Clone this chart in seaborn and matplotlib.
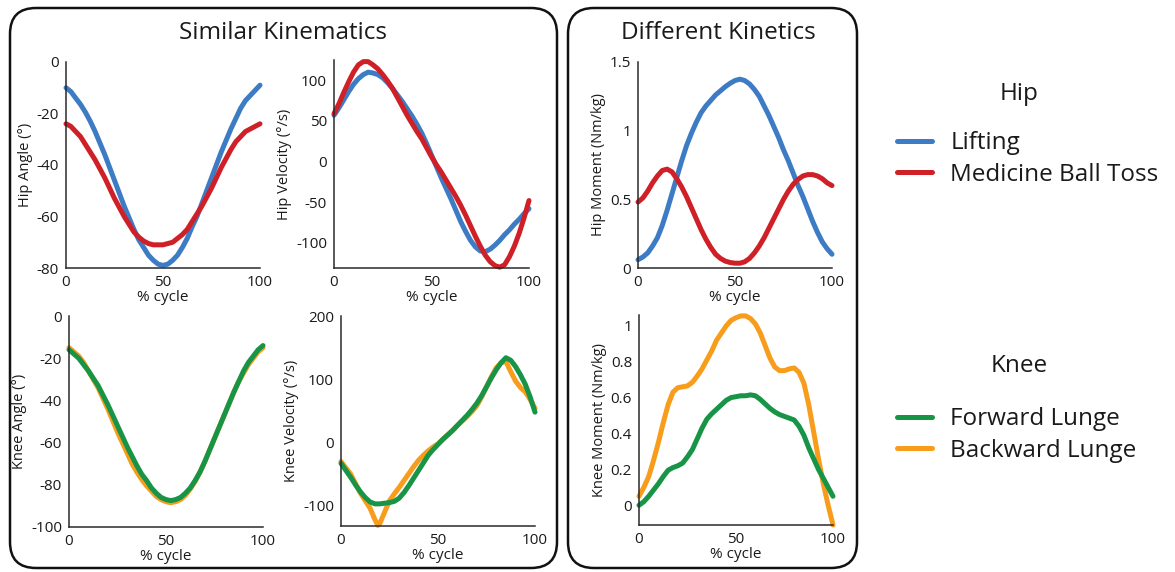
import numpy as np
import pandas as pd
import matplotlib
matplotlib.use("Agg")
import matplotlib.pyplot as plt
import seaborn as sns
from matplotlib.patches import FancyBboxPatch
from matplotlib.ticker import FuncFormatter

# ---------------- data ----------------
cycle = [0, 2.5, 5, 7.5, 10, 12.5, 15, 17.5, 20, 22.5, 25, 27.5, 30, 32.5, 35, 37.5, 40, 42.5, 45, 47.5,
         50, 52.5, 55, 57.5, 60, 62.5, 65, 67.5, 70, 72.5, 75, 77.5, 80, 82.5, 85, 87.5, 90, 92.5, 95, 97.5, 100]

hip_angle_lifting = [-10, -11.5, -14, -16.5, -19.5, -23, -27, -31.5, -36, -41, -46, -51, -56, -60.5, -65, -69, -72, -75, -77, -78.5,
                     -79, -78.5, -77, -75, -72, -68.5, -64, -60, -55, -50, -45, -40, -35, -30.5, -26, -22, -18, -15, -13, -11, -9]
hip_angle_mbt = [-24, -25, -27, -29, -32, -35, -38, -41.5, -45, -49, -53, -56.5, -60, -63, -66, -68, -69.5, -70.5, -71, -71,
                 -71, -70.5, -70, -68.5, -67, -65, -62, -59, -56, -52.5, -49, -45, -41, -37.5, -34, -31, -29, -27, -26, -25, -24]

hip_vel_lifting = [57, 66, 76, 86, 95, 102, 107, 110, 109, 107, 103, 97, 90, 82, 74, 65, 56, 46, 35, 22,
                   8, -6, -20, -33, -46, -60, -74, -86, -97, -105, -110, -111, -108, -103, -97, -90, -84, -77, -71, -64, -58]
hip_vel_mbt = [59, 71, 85, 98, 110, 119, 123, 123, 119, 114, 107, 99, 90, 79, 68, 57, 47, 37, 28, 17,
               6, -4, -13, -23, -33, -43, -54, -66, -79, -92, -104, -115, -123, -128, -130, -127, -117, -104, -88, -69, -48]

knee_angle_forward = [-16, -18, -20, -23, -26, -29.5, -33, -37.5, -42, -47, -52, -57, -62, -66.5, -71, -75, -78, -81.5, -84, -86,
                      -87, -87.5, -87, -86, -84, -81.5, -78, -74, -69, -63.5, -58, -52.5, -47, -41.5, -36, -31, -26, -22, -19, -16, -14]
knee_angle_backward = [-15, -17, -19, -22, -26, -30, -34, -39, -44, -49.5, -55, -60, -65, -70, -74, -77.5, -80.5, -83, -85.5, -87,
                       -88, -88.5, -88, -87, -85, -82, -78.5, -74, -69, -63.5, -58, -52.5, -47, -41.5, -36, -31, -27, -23, -20, -17, -15]

knee_vel_forward = [-33, -44, -55, -67, -78, -87, -94, -97, -97, -96, -95, -93, -88, -79, -68, -56, -44, -32, -20, -11,
                    -3, 5, 12, 19, 27, 35, 43, 52, 62, 74, 88, 102, 115, 126, 134, 130, 120, 107, 92, 72, 48]
knee_vel_backward_cycle = [0, 2.5, 5, 7.5, 10, 12.5, 15, 17.5, 19, 20, 22.5, 25, 27.5, 30, 32.5, 35, 37.5, 40, 42.5, 45, 47.5,
                           50, 52.5, 55, 57.5, 60, 62.5, 65, 67.5, 70, 72.5, 75, 77.5, 80, 82.5, 85, 87.5, 90, 92.5, 95, 97.5, 100]
knee_vel_backward = [-30, -40, -50, -65, -80, -92, -104, -122, -131, -128, -110, -92, -81, -71, -60, -49, -38, -28, -20, -13, -7,
                     -2, 5, 12, 19, 27, 34, 41, 49, 58, 72, 88, 104, 118, 126, 128, 112, 97, 87, 80, 68, 54]

hip_mom_lifting = [0.06, 0.08, 0.11, 0.16, 0.22, 0.31, 0.42, 0.54, 0.66, 0.78, 0.89, 0.98, 1.06, 1.13, 1.18, 1.22, 1.26, 1.29, 1.32, 1.345,
                   1.365, 1.375, 1.365, 1.34, 1.30, 1.25, 1.18, 1.11, 1.03, 0.95, 0.86, 0.78, 0.69, 0.60, 0.52, 0.43, 0.34, 0.26, 0.19, 0.14, 0.10]
hip_mom_mbt = [0.48, 0.51, 0.56, 0.62, 0.67, 0.71, 0.72, 0.70, 0.65, 0.59, 0.52, 0.44, 0.36, 0.28, 0.21, 0.15, 0.10, 0.07, 0.05, 0.04,
               0.035, 0.035, 0.045, 0.07, 0.11, 0.16, 0.22, 0.29, 0.36, 0.43, 0.50, 0.56, 0.61, 0.645, 0.67, 0.68, 0.68, 0.67, 0.65, 0.62, 0.60]

knee_mom_forward = [0.0, 0.02, 0.05, 0.085, 0.12, 0.16, 0.195, 0.21, 0.22, 0.235, 0.27, 0.31, 0.37, 0.43, 0.48, 0.51, 0.535, 0.56, 0.585, 0.60,
                    0.605, 0.61, 0.61, 0.615, 0.61, 0.59, 0.565, 0.54, 0.52, 0.505, 0.495, 0.485, 0.475, 0.44, 0.39, 0.32, 0.26, 0.20, 0.15, 0.10, 0.05]
knee_mom_backward = [0.05, 0.10, 0.16, 0.25, 0.35, 0.46, 0.56, 0.63, 0.655, 0.66, 0.665, 0.685, 0.72, 0.76, 0.81, 0.86, 0.92, 0.96, 1.00, 1.03,
                     1.045, 1.055, 1.055, 1.04, 1.01, 0.96, 0.89, 0.82, 0.77, 0.75, 0.75, 0.76, 0.765, 0.74, 0.68, 0.56, 0.41, 0.26, 0.12, 0.00, -0.11]

hip_labels = ["Lifting", "Medicine Ball Toss"]
knee_labels = ["Forward Lunge", "Backward Lunge"]
colors = {"Lifting": "#3d7cc4", "Medicine Ball Toss": "#cf2027",
          "Forward Lunge": "#189447", "Backward Lunge": "#f89c1c"}

panel_titles = ["Similar Kinematics", "Different Kinetics"]
group_titles = ["Hip", "Knee"]
ylabels = ["Hip Angle (°)", "Hip Velocity (°/s)", "Knee Angle (°)",
           "Knee Velocity (°/s)", "Hip Moment (Nm/kg)", "Knee Moment (Nm/kg)"]
xlabel = "% cycle"
xticks = [0, 50, 100]


def long_df(pairs):
    frames = []
    for name, xs, ys in pairs:
        frames.append(pd.DataFrame({"cycle": xs, "value": ys, "series": name}))
    return pd.concat(frames, ignore_index=True)


# ---------------- style ----------------
sns.set_style("white")
plt.rcParams["font.family"] = ["Open Sans", "DejaVu Sans"]
spine_c = "#2a2a2a"
text_c = "#1a1a1a"

W, H = 1175, 572
fig = plt.figure(figsize=(W / 100, H / 100), dpi=100)

# background overlay in pixel units for rounded panel boxes
bg = fig.add_axes([0, 0, 1, 1], zorder=-5)
bg.set_xlim(0, W)
bg.set_ylim(H, 0)
bg.axis("off")
for (l, r) in [(10, 557), (568, 857)]:
    t, b = 8, 568
    bg.add_patch(FancyBboxPatch((l, t), r - l, b - t,
                                boxstyle="round,pad=0,rounding_size=26",
                                fill=False, lw=1.8, ec="#111111"))


def ax_px(l, r, t, b):
    return fig.add_axes([l / W, 1 - b / H, (r - l) / W, (b - t) / H])


specs = [
    (ax_px(66, 260, 62, 268), long_df([("Lifting", cycle, hip_angle_lifting),
                                       ("Medicine Ball Toss", cycle, hip_angle_mbt)]),
     hip_labels, (-80, 0), [0, -20, -40, -60, -80]),
    (ax_px(334, 529, 60, 268), long_df([("Lifting", cycle, hip_vel_lifting),
                                        ("Medicine Ball Toss", cycle, hip_vel_mbt)]),
     hip_labels, (-131, 125), [100, 50, 0, -50, -100]),
    (ax_px(69, 263, 316, 527), long_df([("Backward Lunge", cycle, knee_angle_backward),
                                        ("Forward Lunge", cycle, knee_angle_forward)]),
     knee_labels[::-1], (-100, 0), [0, -20, -40, -60, -80, -100]),
    (ax_px(341, 535, 316, 526), long_df([("Backward Lunge", knee_vel_backward_cycle, knee_vel_backward),
                                         ("Forward Lunge", cycle, knee_vel_forward)]),
     knee_labels[::-1], (-132, 200), [200, 100, 0, -100]),
    (ax_px(638, 832, 62, 268), long_df([("Lifting", cycle, hip_mom_lifting),
                                        ("Medicine Ball Toss", cycle, hip_mom_mbt)]),
     hip_labels, (0, 1.5), [0, 0.5, 1, 1.5]),
    (ax_px(639, 833, 315, 525), long_df([("Backward Lunge", cycle, knee_mom_backward),
                                         ("Forward Lunge", cycle, knee_mom_forward)]),
     knee_labels[::-1], (-0.11, 1.06), [0, 0.2, 0.4, 0.6, 0.8, 1]),
]

handles = {}
for i, (ax, df, order, ylim, yt) in enumerate(specs):
    sns.lineplot(data=df, x="cycle", y="value", hue="series", hue_order=order,
                 palette=colors, linewidth=3.6, ax=ax, legend=False, sort=False,
                 estimator=None)
    for ln, name in zip(ax.get_lines(), order):
        ln.set_clip_on(False)
        ln.set_solid_capstyle("round")
        ln.set_solid_joinstyle("round")
        handles[name] = ln
    ax.set_xlim(0, 100)
    ax.set_ylim(*ylim)
    ax.set_xticks(xticks)
    ax.set_yticks(yt)
    ax.yaxis.set_major_formatter(FuncFormatter(lambda v, p: f"{v:g}"))
    sns.despine(ax=ax)
    for s in ["left", "bottom"]:
        ax.spines[s].set_color(spine_c)
        ax.spines[s].set_linewidth(1.1)
    ax.tick_params(direction="in", length=3, width=1, color=spine_c,
                   labelsize=11, labelcolor=text_c, pad=5)
    ax.set_xlabel(xlabel, fontsize=11, color=text_c, labelpad=0)
    ax.set_ylabel(ylabels[i], fontsize=10.5, color=text_c, labelpad=3)
    ax.set_facecolor("none")

fig.text(283 / W, 1 - 33 / H, panel_titles[0], ha="center", va="center", fontsize=17.5, color=text_c)
fig.text(718 / W, 1 - 33 / H, panel_titles[1], ha="center", va="center", fontsize=17.5, color=text_c)

fig.text(1019 / W, 1 - 94 / H, group_titles[0], ha="center", va="center", fontsize=17.5, color=text_c)
fig.text(1019 / W, 1 - 366 / H, group_titles[1], ha="center", va="center", fontsize=17.5, color=text_c)

for labels, yc in [(hip_labels, 159), (knee_labels, 435)]:
    leg = fig.legend([handles[n] for n in labels], labels, loc="center left",
                     bbox_to_anchor=(897 / W, 1 - yc / H), frameon=False,
                     fontsize=17.5, handlelength=1.45, handletextpad=0.75,
                     labelspacing=0.32, borderpad=0, borderaxespad=0)
    for lh in leg.get_lines():
        lh.set_linewidth(3.6)
    for t in leg.get_texts():
        t.set_color(text_c)

fig.savefig("out.png", dpi=100)
